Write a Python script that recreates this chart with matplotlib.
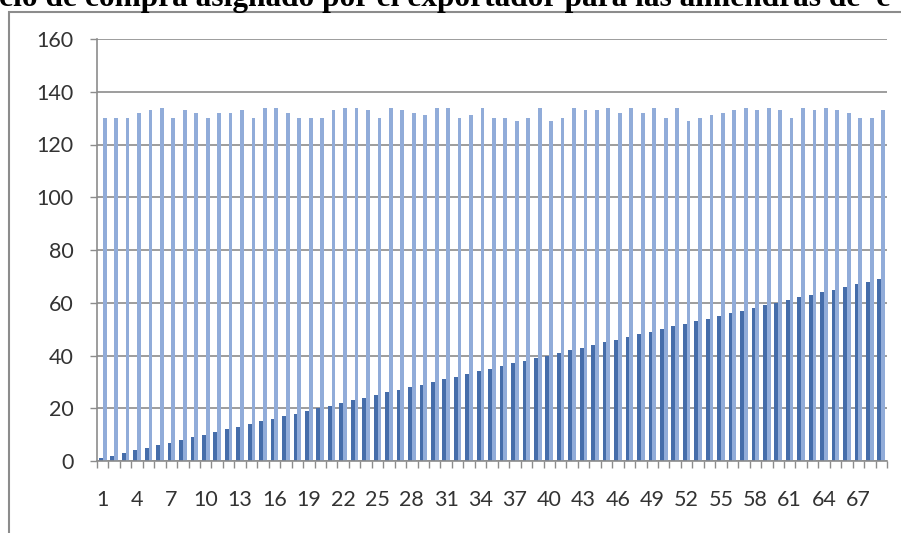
import numpy as np
import matplotlib
matplotlib.use("Agg")
import matplotlib.pyplot as plt
from matplotlib.patches import Rectangle

# lot number on the x axis
lots = list(range(1, 70))
# first series: rises by one per lot
serie_1 = list(range(1, 70))
# second series: price per lot
serie_2 = [130, 130, 130, 132, 133, 134, 130, 133, 132, 130,
           132, 132, 133, 130, 134, 134, 132, 130, 130, 130,
           133, 134, 134, 133, 130, 134, 133, 132, 131, 134,
           134, 130, 131, 134, 130, 130, 129, 130, 134, 129,
           130, 134, 133, 133, 134, 132, 134, 132, 134, 130,
           134, 129, 130, 131, 132, 133, 134, 133, 134, 133,
           130, 134, 133, 134, 133, 132, 130, 130, 133]
y_ticks = [0, 20, 40, 60, 80, 100, 120, 140, 160]
title = "cio de compra asignado por el exportador para las almendras de  c"

W, H = 901, 533
fig = plt.figure(figsize=(W / 100, H / 100), dpi=100)
fig.patch.set_facecolor("white")

# outer chart frame, runs off the right and bottom edges
fig.add_artist(Rectangle((9 / W, -0.1), 1.2, 1.1 - 12 / H,
                         transform=fig.transFigure, fill=False,
                         edgecolor="#8c8c8c", linewidth=1.5))

fig.text(-1 / W, 1 - 6 / H, title, fontsize=22.6, fontweight="bold",
         family="Liberation Serif", ha="left", va="baseline", color="black")

ax = fig.add_axes([97 / W, 72 / H, 790 / W, 422 / H])
x = np.array(lots)
w = 0.33
ax.bar(x - w / 2, serie_1, width=w, color="#456DAA", linewidth=0, zorder=3)
ax.bar(x + w / 2, serie_2, width=w, color="#91ACD9", linewidth=0, zorder=3)

ax.set_xlim(0.5, 69.5)
ax.set_ylim(0, 160)
ax.set_yticks(y_ticks)
ax.yaxis.grid(True, color="#8c8c8c", linewidth=1.2, zorder=0)

for side in ["top", "right"]:
    ax.spines[side].set_visible(False)
ax.spines["left"].set_color("#8c8c8c")
ax.spines["bottom"].set_color("#8c8c8c")
ax.spines["left"].set_linewidth(1.2)
ax.spines["bottom"].set_linewidth(1.2)
ax.spines["bottom"].set_zorder(4)

# labels every third lot, tick marks between lots
ax.set_xticks(lots[::3])
ax.set_xticklabels([str(v) for v in lots[::3]])
ax.set_xticks(np.arange(0.5, 70, 1), minor=True)
ax.tick_params(axis="x", which="major", length=0, pad=21)
ax.tick_params(axis="x", which="minor", length=5, width=1, color="#8c8c8c")
ax.tick_params(axis="y", length=5, width=1, color="#8c8c8c", pad=12)
for lab in ax.get_xticklabels() + ax.get_yticklabels():
    lab.set_fontfamily("Lato")
    lab.set_fontsize(15.5)
    lab.set_color("#333333")

fig.savefig("out.png", dpi=100)
